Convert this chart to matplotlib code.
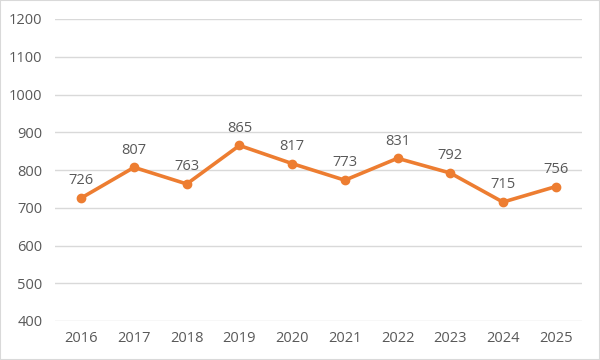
import matplotlib
matplotlib.use("Agg")
import matplotlib.pyplot as plt
from matplotlib.patches import Rectangle

years = ["2016", "2017", "2018", "2019", "2020", "2021", "2022", "2023", "2024", "2025"]
values = [726, 807, 763, 865, 817, 773, 831, 792, 715, 756]
y_ticks = [400, 500, 600, 700, 800, 900, 1000, 1100, 1200]

text_color = "#595959"
line_color = "#ED7D31"
grid_color = "#D9D9D9"

plt.rcParams["font.family"] = ["Open Sans", "DejaVu Sans"]

fig = plt.figure(figsize=(6, 3.6), dpi=100)
ax = fig.add_axes([55 / 600, 1 - 321 / 360, 527 / 600, 302 / 360])

x = list(range(len(years)))
ax.plot(x, values, color=line_color, linewidth=2.6, marker="o", markersize=6, zorder=3)
for xi, v in zip(x, values):
    ax.annotate(str(v), (xi, v), xytext=(0, 7), textcoords="offset points",
                ha="center", va="bottom", fontsize=10.5, color=text_color)

ax.set_xlim(-0.5, len(years) - 0.5)
ax.set_ylim(400, 1200)
ax.set_yticks(y_ticks)
ax.set_xticks(x)
ax.set_xticklabels(years)
ax.yaxis.grid(True, color=grid_color, linewidth=1)
ax.set_axisbelow(True)
for s in ax.spines.values():
    s.set_visible(False)
ax.tick_params(length=0, labelsize=10.5, colors=text_color)
ax.tick_params(axis="y", pad=9)
ax.tick_params(axis="x", pad=7)

fig.patches.append(Rectangle((0, 0), 1, 1, transform=fig.transFigure, fill=False,
                             edgecolor="#D9D9D9", linewidth=1.5))

fig.savefig("out.png", dpi=100)
